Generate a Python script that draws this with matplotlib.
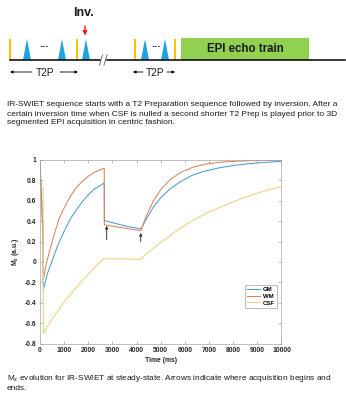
import matplotlib.pyplot as plt
from matplotlib.patches import Rectangle, Polygon

# Mz evolution (time in ms, Mz in a.u.)
gm_t = [0, 130, 140, 300, 500, 750, 1000, 1250, 1500, 1750, 2000, 2250, 2500, 2660,
        2665, 3000, 3450, 3800, 4180,
        4400, 4700, 5000, 5400, 5800, 6300, 6800, 7400, 8000, 8700, 9400, 10000]
gm_mz = [0.98, 0.27, -0.27, -0.12, 0.01, 0.17, 0.30, 0.42, 0.51, 0.59, 0.66, 0.715, 0.75, 0.775,
         0.405, 0.385, 0.358, 0.34, 0.325,
         0.42, 0.54, 0.63, 0.72, 0.785, 0.85, 0.89, 0.922, 0.946, 0.965, 0.978, 0.987]

wm_t = [0, 130, 140, 250, 400, 600, 800, 1000, 1250, 1500, 1750, 2000, 2250, 2500, 2660,
        2665, 3000, 3450, 3800, 4180,
        4400, 4700, 5000, 5400, 5800, 6300, 6800, 7400, 8000, 8700, 9400, 10000]
wm_mz = [0.99, 0.17, -0.17, -0.03, 0.11, 0.28, 0.43, 0.53, 0.64, 0.73, 0.79, 0.84, 0.88, 0.905, 0.92,
         0.365, 0.35, 0.335, 0.32, 0.307,
         0.45, 0.60, 0.71, 0.81, 0.875, 0.927, 0.957, 0.977, 0.987, 0.993, 0.997, 0.999]

csf_t = [0, 130, 140, 500, 1000, 1500, 2000, 2400, 2620, 3000, 3500, 4180,
         4500, 5000, 5500, 6000, 6500, 7000, 7500, 8000, 8500, 9000, 9500, 10000]
csf_mz = [0.74, 0.73, -0.70, -0.56, -0.39, -0.25, -0.12, -0.02, 0.03, 0.03, 0.03, 0.025,
          0.10, 0.19, 0.28, 0.36, 0.43, 0.49, 0.54, 0.59, 0.635, 0.675, 0.71, 0.74]

series = ['GM', 'WM', 'CSF']
colors = ['#4A9CCB', '#D9825E', '#EDCF7E']

# acquisition begin / end arrows (time, base Mz, tip Mz)
arrow_t = [2760, 4170]
arrow_base = [0.22, 0.20]
arrow_tip = [0.355, 0.285]

xticks = list(range(0, 10001, 1000))
yticks = [-0.8, -0.6, -0.4, -0.2, 0, 0.2, 0.4, 0.6, 0.8, 1]
ytick_labels = ['-0.8', '-0.6', '-0.4', '-0.2', '0', '0.2', '0.4', '0.6', '0.8', '1']

caption_top = ["IR-SWIET sequence starts with a T2 Preparation sequence followed by inversion. After a",
               "certain inversion time when CSF is nulled a second shorter T2 Prep is played prior to 3D",
               "segmented EPI acquisition in centric fashion."]
caption_bottom = ["M$_\\mathregular{z}$ evolution for IR-SWIET at steady-state. Arrows indicate where acquisition begins and",
                  "ends."]

fig = plt.figure(figsize=(3.46, 4.0), dpi=100)

# ---- background layer in pixel coordinates: sequence diagram + captions
bg = fig.add_axes([0, 0, 1, 1])
bg.set_xlim(0, 346)
bg.set_ylim(400, 0)
bg.axis('off')

yellow = '#FFC000'
blue = '#1FA3DD'
green = '#92D050'

bg.plot([10, 100], [60, 60], color='black', lw=1.1)
bg.plot([107, 345], [60, 60], color='black', lw=1.1)
bg.plot([99.5, 102.5], [65, 55], color='#555555', lw=0.6)
bg.plot([104, 107], [65, 55], color='#555555', lw=0.6)

for x in [10, 77, 135, 175]:
    bg.add_patch(Rectangle((x - 1.2, 39), 2.4, 21, color=yellow, lw=0))
for x0, x1 in [(23, 31), (58, 66), (82, 90), (141, 149), (161, 169)]:
    bg.add_patch(Polygon([(x0, 60), ((x0 + x1) / 2, 39), (x1, 60)], closed=True, color=blue, lw=0))
for x in [44, 156]:
    bg.text(x, 44, '...', ha='center', va='center', fontsize=8, fontweight='bold',
            family='Liberation Sans', color='#222222')

bg.add_patch(Rectangle((181, 38), 128, 22, color=green, lw=0))
bg.text(245, 48.5, 'EPI echo train', ha='center', va='center', fontsize=8.3,
        fontweight='bold', family='Liberation Sans', color='#1a1a1a')

bg.text(84, 13, 'Inv.', ha='center', va='center', fontsize=9, fontweight='bold',
        family='Liberation Sans', color='#1a1a1a')
bg.annotate('', xy=(85, 35.5), xytext=(85, 26),
            arrowprops=dict(arrowstyle='-|>', color='#E0201B', lw=1.0, mutation_scale=6,
                            shrinkA=0, shrinkB=0))

for a0, a1, t0, t1, xt in [(10, 32, 60, 78, 45), (133, 143, 167, 175, 155)]:
    bg.annotate('', xy=(a0, 72), xytext=(a1, 72),
                arrowprops=dict(arrowstyle='-|>', color='black', lw=0.6, mutation_scale=4,
                                shrinkA=0, shrinkB=0))
    bg.annotate('', xy=(t1, 72), xytext=(t0, 72),
                arrowprops=dict(arrowstyle='-|>', color='black', lw=0.6, mutation_scale=4,
                                shrinkA=0, shrinkB=0))
    bg.text(xt, 72.5, 'T2P', ha='center', va='center', fontsize=7.3,
            family='Liberation Sans', color='#1a1a1a')

for i, line in enumerate(caption_top):
    bg.text(7, 105 + 9 * i, line, ha='left', va='center', fontsize=6.05,
            family='Liberation Sans', color='#1a1a1a')
for i, line in enumerate(caption_bottom):
    bg.text(7, 378 + 10 * i, line, ha='left', va='center', fontsize=5.95,
            family='Liberation Sans', color='#1a1a1a')

# ---- Mz chart
ax = fig.add_axes([40 / 346, 1 - 343.5 / 400, 241.5 / 346, 183.5 / 400])
for name, t, mz, c in zip(series, [gm_t, wm_t, csf_t], [gm_mz, wm_mz, csf_mz], colors):
    ax.plot(t, mz, color=c, lw=0.75, label=name)

for t, b, tip in zip(arrow_t, arrow_base, arrow_tip):
    ax.annotate('', xy=(t, tip), xytext=(t, b),
                arrowprops=dict(arrowstyle='-|>', color='#333333', lw=0.7, mutation_scale=4,
                                shrinkA=0, shrinkB=0))

ax.set_xlim(0, 10000)
ax.set_ylim(-0.8, 1)
ax.set_xticks(xticks)
ax.set_xticklabels([str(v) for v in xticks])
ax.set_yticks(yticks)
ax.set_yticklabels(ytick_labels)
ax.tick_params(which='both', direction='in', length=2, width=0.4, color='#8c8c8c',
               labelcolor='#262626', labelsize=4.9, pad=2.5, top=True, right=True)
for lbl in ax.get_xticklabels() + ax.get_yticklabels():
    lbl.set_fontweight('bold')
    lbl.set_family('Liberation Sans')
for sp in ax.spines.values():
    sp.set_color('#a6a6a6')
    sp.set_linewidth(0.5)

ax.set_xlabel('Time (ms)', fontsize=4.9, fontweight='bold', family='Liberation Sans',
              color='#262626', labelpad=2)
ax.set_ylabel('M$_\\mathregular{z}$ (a.u.)', fontsize=4.9, fontweight='bold',
              family='Liberation Sans', color='#262626', labelpad=3)

leg = ax.legend(loc='upper right', bbox_to_anchor=(0.981, 0.319),
                prop={'family': 'Liberation Sans', 'weight': 'bold', 'size': 4.3},
                frameon=True, fancybox=False, framealpha=1, edgecolor='#a0a0a0',
                handlelength=2.2, handletextpad=0.4, borderpad=0.35, labelspacing=0.25,
                borderaxespad=0)
leg.get_frame().set_linewidth(0.5)

fig.savefig('out.png', dpi=100)
